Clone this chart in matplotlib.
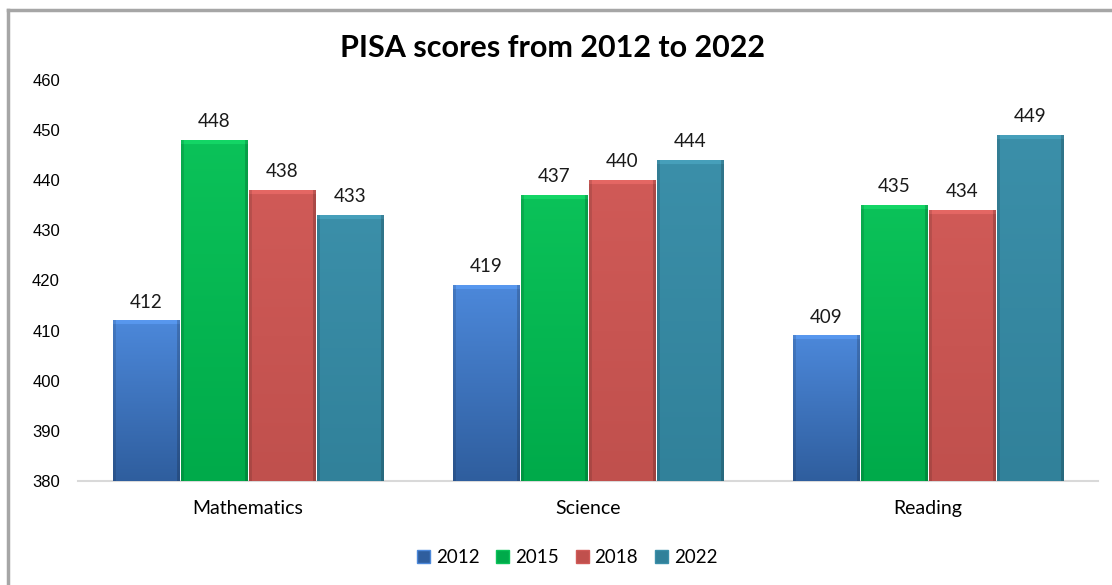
import numpy as np
import matplotlib
matplotlib.use("Agg")
import matplotlib.pyplot as plt
from matplotlib.colors import to_rgb
from matplotlib.lines import Line2D
from matplotlib.patches import Patch

# Data
subjects = ["Mathematics", "Science", "Reading"]
years = ["2012", "2015", "2018", "2022"]
scores_2012 = [412, 419, 409]
scores_2015 = [448, 437, 435]
scores_2018 = [438, 440, 434]
scores_2022 = [433, 444, 449]
y_ticks = [380, 390, 400, 410, 420, 430, 440, 450, 460]

series = [scores_2012, scores_2015, scores_2018, scores_2022]
# (top colour, bottom colour) of the Excel-like gradient fill
fills = [("#4C88DA", "#2F5E9E"),
         ("#0BC259", "#00AA4A"),
         ("#D05A57", "#C0504D"),
         ("#3B8FA9", "#31819A")]
base = 380

fig = plt.figure(figsize=(11.12, 5.85), dpi=100)
ax = fig.add_axes([0.0701, 0.1778, 0.9173, 0.6855])

x = np.arange(len(subjects))
width = 0.2


def gradient_bar(x0, w, h, top, bottom):
    rows = max(int((h - base) * 5), 4)
    cols = 68
    t = np.linspace(0, 1, rows)[:, None, None]  # 0 = bottom
    top_c = np.array(to_rgb(top))
    bot_c = np.array(to_rgb(bottom))
    img = bot_c * (1 - t) + top_c * t
    img = np.repeat(img, cols, axis=1)
    # bevel: slightly lighter top strip, darker sides
    img[-4:, :, :] = np.clip(img[-4:, :, :] * 1.06 + 0.03, 0, 1)
    img[:, :3, :] *= 0.88
    img[:, -3:, :] *= 0.82
    ax.imshow(img, extent=(x0, x0 + w, base, h), origin="lower",
              aspect="auto", zorder=3, interpolation="bilinear")


for i, (vals, (top, bottom)) in enumerate(zip(series, fills)):
    offs = x + (i - 1.5) * width
    bars = ax.bar(offs, np.array(vals) - base, width * 0.98, bottom=base,
                  color=bottom, zorder=2, label=years[i])
    for b, v in zip(bars, vals):
        gradient_bar(b.get_x(), b.get_width(), v, top, bottom)
        ax.text(b.get_x() + b.get_width() / 2, v + 2.0, str(v),
                ha="center", va="bottom", fontsize=13.5, family="Lato",
                color="#1a1a1a")

ax.set_xlim(-0.5, len(subjects) - 0.5)
ax.set_ylim(base, 460)
ax.set_yticks(y_ticks)
ax.set_yticklabels([str(t) for t in y_ticks], family="Liberation Sans",
                   fontsize=12)
ax.set_xticks(x)
ax.set_xticklabels(subjects, family="Lato", fontsize=14)
ax.tick_params(axis="both", length=0)
ax.tick_params(axis="y", pad=13)
ax.tick_params(axis="x", pad=14)
for s in ["top", "right", "left"]:
    ax.spines[s].set_visible(False)
ax.spines["bottom"].set_color("#D9D9D9")
ax.spines["bottom"].set_linewidth(1.5)

fig.text(0.497, 0.918, "PISA scores from 2012 to 2022", ha="center",
         va="center", fontsize=22, fontweight="bold", family="Lato")

handles = [Patch(facecolor=f[1], edgecolor=f[0]) for f in fills]
fig.legend(handles, years, loc="center", bbox_to_anchor=(0.51, 0.047),
           ncol=4, frameon=False, prop={"family": "Lato", "size": 13.5},
           handlelength=0.7, handleheight=0.7, handletextpad=0.3,
           columnspacing=0.9)

# outer chart border (left and top visible)
fig.add_artist(Line2D([8 / 1112, 8 / 1112], [0, 1 - 10 / 585],
                      transform=fig.transFigure, color="#A6A6A6", lw=2.5))
fig.add_artist(Line2D([8 / 1112, 1], [1 - 10 / 585, 1 - 10 / 585],
                      transform=fig.transFigure, color="#A6A6A6", lw=2.5))

fig.savefig("out.png", dpi=100)
